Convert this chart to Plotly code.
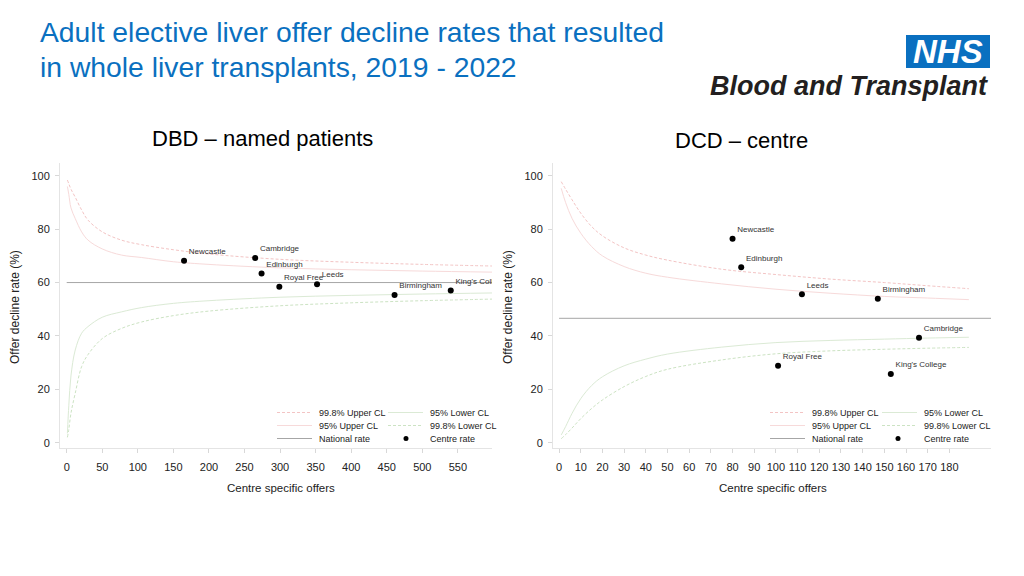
import plotly.graph_objects as go

# ---------------- data ----------------
dbd_centres = ["Newcastle", "Cambridge", "Edinburgh", "Royal Free", "Leeds", "Birmingham", "King's College"]
dbd_offers = [165, 265, 274, 299, 352, 461, 540]
dbd_rate = [68.2, 69.2, 63.4, 58.4, 59.4, 55.3, 57.0]
dbd_national = 60.0

dbd_n = [1, 3, 6, 12, 21, 30, 50, 77, 105, 150, 200, 300, 400, 500, 598]
dbd_u998 = [98.4, 97, 95, 92, 87.2, 83.4, 79, 75.9, 74.2, 72.3, 70.7, 68.7, 67.6, 66.8, 66.2]
dbd_u95 = [96, 93, 88, 84, 79, 75.9, 72.6, 70.3, 69.4, 67.8, 66.8, 65.5, 64.8, 64.3, 63.9]
dbd_l95 = [3.5, 14, 25, 34.7, 41, 43.5, 47, 49, 50.6, 52.2, 53.2, 54.5, 55.2, 55.7, 56.1]
dbd_l998 = [2, 5, 11, 18.5, 28.5, 33, 39, 42.8, 45.2, 47.6, 49.3, 51.3, 52.4, 53.2, 53.8]

dcd_centres = ["Newcastle", "Edinburgh", "Royal Free", "Leeds", "Birmingham", "King's College", "Cambridge"]
dcd_offers = [80, 84, 101, 112, 147, 153, 166]
dcd_rate = [76.4, 65.7, 28.8, 55.6, 53.9, 25.7, 39.3]
dcd_national = 46.6

dcd_n = [1, 3, 6, 10, 15, 20, 30, 40, 50, 75, 100, 125, 150, 170, 189]
dcd_u998 = [97.8, 95, 91, 86, 81, 77.5, 73, 70.3, 68.4, 65, 63, 61.3, 60, 58.8, 57.7]
dcd_u95 = [95.3, 90, 84, 78.5, 73.5, 70, 66, 63.5, 62, 59.5, 57.5, 56, 54.8, 54.2, 53.6]
dcd_l95 = [2.9, 6, 11, 16.5, 21.4, 24.7, 28.8, 31.3, 33.2, 35.8, 37.5, 38.3, 38.8, 39.2, 39.5]
dcd_l998 = [1.5, 3, 5.5, 9, 12.8, 16, 21, 24.8, 27.5, 31, 33.3, 34.4, 35, 35.4, 35.7]

dbd_xticks = list(range(0, 551, 50))
dcd_xticks = list(range(0, 181, 10))
y_ticks = [0, 20, 40, 60, 80, 100]

legend_labels = [["99.8% Upper CL", "95% Lower CL"],
                 ["95% Upper CL", "99.8% Lower CL"],
                 ["National rate", "Centre rate"]]

# ---------------- styles ----------------
FONT = "Liberation Sans, Arial, sans-serif"
C_U998 = "#f3c4c4"
C_U95 = "#f7dada"
C_L95 = "#dbead5"
C_L998 = "#cce3c3"
C_NAT = "#a6a6a6"

W, H = 1024, 576


def px(x):
    return x / W


def py(y):
    return 1 - y / H


fig = go.Figure()


def add_panel(xa, ya, n, u998, u95, l95, l998, nat, nat_end, offers, rate, centres):
    common = dict(xaxis=xa, yaxis=ya, mode="lines", hoverinfo="skip", showlegend=False)
    fig.add_trace(go.Scatter(x=n, y=u998, line=dict(color=C_U998, width=1, dash="3px,2px", shape="spline"), **common))
    fig.add_trace(go.Scatter(x=n, y=u95, line=dict(color=C_U95, width=1, shape="spline"), **common))
    fig.add_trace(go.Scatter(x=n, y=l95, line=dict(color=C_L95, width=1, shape="spline"), **common))
    fig.add_trace(go.Scatter(x=n, y=l998, line=dict(color=C_L998, width=1, dash="3px,2px", shape="spline"), **common))
    fig.add_trace(go.Scatter(x=[0, nat_end], y=[nat, nat], line=dict(color=C_NAT, width=1), **common))
    fig.add_trace(go.Scatter(
        x=offers, y=rate, text=centres, xaxis=xa, yaxis=ya, mode="markers+text",
        marker=dict(color="black", size=6), textposition="top right",
        textfont=dict(family=FONT, size=8, color="#333333"), cliponaxis=True,
        showlegend=False))


add_panel("x", "y", dbd_n, dbd_u998, dbd_u95, dbd_l95, dbd_l998, dbd_national, 598,
          dbd_offers, dbd_rate, dbd_centres)
add_panel("x2", "y2", dcd_n, dcd_u998, dcd_u95, dcd_l95, dcd_l998, dcd_national, 200,
          dcd_offers, dcd_rate, dcd_centres)

axis_common = dict(showgrid=False, zeroline=False, showline=True, linecolor="#e4e4e4", linewidth=1,
                   ticks="outside", ticklen=4, tickcolor="#d8d8d8",
                   tickfont=dict(family=FONT, size=11, color="#222222"))

ydom = [py(448), py(163)]
fig.update_layout(
    width=W, height=H, margin=dict(l=0, r=0, t=0, b=0),
    paper_bgcolor="white", plot_bgcolor="white",
    xaxis=dict(domain=[px(60), px(492)], range=[-9.4, 598], tickvals=dbd_xticks,
               ticklabelstandoff=5, anchor="y", **axis_common),
    yaxis=dict(domain=ydom, range=[-2, 104.8], tickvals=y_ticks, anchor="x",
               ticklabelstandoff=3, **axis_common),
    xaxis2=dict(domain=[px(553), px(991)], range=[-2.8, 199.2], tickvals=dcd_xticks,
                ticklabelstandoff=5, anchor="y2", **axis_common),
    yaxis2=dict(domain=ydom, range=[-2, 104.8], tickvals=y_ticks, anchor="x2",
                ticklabelstandoff=3, **axis_common),
)

ann = []
# Title
ann.append(dict(text="Adult elective liver offer decline rates that resulted", x=px(38), y=py(32),
                xanchor="left", yanchor="middle", font=dict(family=FONT, size=28.3, color="#0a70c0")))
ann.append(dict(text="in whole liver transplants, 2019 - 2022", x=px(38), y=py(67),
                xanchor="left", yanchor="middle", font=dict(family=FONT, size=28.3, color="#0a70c0")))
# Logo
ann.append(dict(text="<b><i>NHS</i></b>", x=px(948), y=py(51.5), xanchor="center", yanchor="middle",
                font=dict(family=FONT, size=33, color="white")))
ann.append(dict(text="<b><i>Blood and Transplant</i></b>", x=px(990), y=py(86), xanchor="right",
                yanchor="middle", font=dict(family=FONT, size=27, color="#231f20")))
# Panel titles
ann.append(dict(text="DBD – named patients", x=px(262), y=py(138), xanchor="center", yanchor="middle",
                font=dict(family=FONT, size=22, color="black")))
ann.append(dict(text="DCD – centre", x=px(741), y=py(141), xanchor="center", yanchor="middle",
                font=dict(family=FONT, size=22, color="black")))
# Axis titles
for xc in (281, 773):
    ann.append(dict(text="Centre specific offers", x=px(xc), y=py(488), xanchor="center", yanchor="middle",
                    font=dict(family=FONT, size=11.5, color="#222222")))
for xc in (15, 508):
    ann.append(dict(text="Offer decline rate (%)", x=px(xc), y=py(307), xanchor="center", yanchor="middle",
                    textangle=-90, font=dict(family=FONT, size=12, color="#222222")))

shapes = [dict(type="rect", x0=px(906), x1=px(990), y0=py(68), y1=py(35), xref="paper", yref="paper",
               fillcolor="#0a70c0", line=dict(width=0), layer="below")]

# Manual legends (2 columns x 3 rows)
legend_styles = [[(C_U998, "3px,2px"), (C_L95, "solid")],
                 [(C_U95, "solid"), (C_L998, "3px,2px")],
                 [(C_NAT, "solid"), None]]
row_y = [412.5, 425.5, 438.5]
for (s1, t1, s2, t2, dotx) in [(277, 317, 388, 428, 406), (770, 810, 882, 922, 898)]:
    for r in range(3):
        yy = row_y[r]
        for c, (sx, tx) in enumerate([(s1, t1), (s2, t2)]):
            st = legend_styles[r][c]
            if st is not None:
                shapes.append(dict(type="line", xref="paper", yref="paper", x0=px(sx), x1=px(sx + 35),
                                   y0=py(yy), y1=py(yy), line=dict(color=st[0], width=1, dash=st[1])))
            ann.append(dict(text=legend_labels[r][c], x=px(tx), y=py(yy), xanchor="left", yanchor="middle",
                            font=dict(family=FONT, size=9, color="#222222")))
    shapes.append(dict(type="circle", xref="paper", yref="paper", x0=px(dotx - 2.5), x1=px(dotx + 2.5),
                       y0=py(438.5 + 2.5), y1=py(438.5 - 2.5), fillcolor="black", line=dict(width=0)))

for a in ann:
    a.update(xref="paper", yref="paper", showarrow=False)
fig.update_layout(annotations=ann, shapes=shapes)

fig.write_html("out.html", config={"displayModeBar": False},
               post_script="document.body.style.margin='0px';document.body.style.padding='0px';")
